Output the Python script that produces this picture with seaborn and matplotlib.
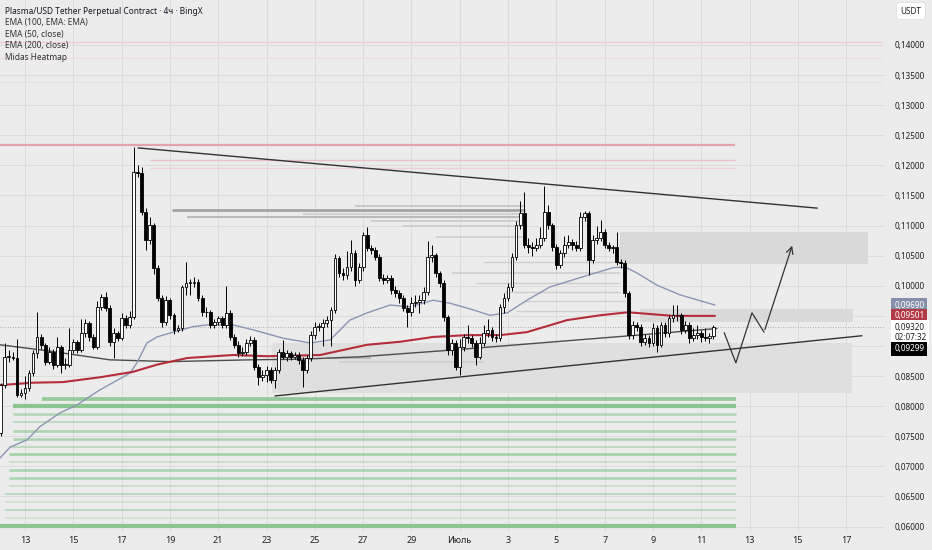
import numpy as np
import pandas as pd
import matplotlib
matplotlib.use("Agg")
import matplotlib.pyplot as plt
import seaborn as sns
from matplotlib.transforms import blended_transform_factory

# 4h candles, Plasma/USDT perpetual (BingX), starting 12 June
start = pd.Timestamp("2025-06-12 00:00")
first_open = 0.0756
closes = [0.0835, 0.0882, 0.0882, 0.0880, 0.0819, 0.0822, 0.0830, 0.0855, 0.0888, 0.0915,
          0.0902, 0.0874, 0.0890, 0.0869, 0.0898, 0.0869, 0.0869, 0.0893, 0.0907, 0.0893,
          0.0921, 0.0938, 0.0915, 0.0898, 0.0965, 0.0981, 0.0963, 0.0907, 0.0921, 0.0913,
          0.0946, 0.0935, 0.0948, 0.1189, 0.1187, 0.1123, 0.1076, 0.1101, 0.1030, 0.0980,
          0.0940, 0.0976, 0.0951, 0.0927, 0.0930, 0.0998, 0.1005, 0.1005, 0.1006, 0.0980,
          0.0956, 0.0956, 0.0935, 0.0940, 0.0946, 0.0935, 0.0955, 0.0915, 0.0902, 0.0888,
          0.0890, 0.0905, 0.0910, 0.0865, 0.0848, 0.0852, 0.0860, 0.0843, 0.0860, 0.0890,
          0.0882, 0.0888, 0.0882, 0.0885, 0.0877, 0.0860, 0.0880, 0.0918, 0.0932, 0.0932,
          0.0938, 0.0943, 0.0960, 0.1046, 0.1021, 0.1018, 0.1031, 0.1054, 0.1010, 0.1031,
          0.1084, 0.1063, 0.1059, 0.1048, 0.1013, 0.1010, 0.1013, 0.0993, 0.0988, 0.0980,
          0.0963, 0.0956, 0.0971, 0.0973, 0.0976, 0.0990, 0.1048, 0.1051, 0.1021, 0.1005,
          0.0948, 0.0893, 0.0905, 0.0865, 0.0898, 0.0915, 0.0913, 0.0905, 0.0882, 0.0905,
          0.0921, 0.0927, 0.0915, 0.0913, 0.0965, 0.0980, 0.0998, 0.1048, 0.1101, 0.1121,
          0.1068, 0.1064, 0.1063, 0.1068, 0.1079, 0.1123, 0.1101, 0.1064, 0.1035, 0.1054,
          0.1068, 0.1073, 0.1068, 0.1063, 0.1114, 0.1121, 0.1043, 0.1076, 0.1079, 0.1090,
          0.1068, 0.1063, 0.1064, 0.1040, 0.1038, 0.0988, 0.0918, 0.0935, 0.0932, 0.0907,
          0.0913, 0.0905, 0.0930, 0.0902, 0.0935, 0.0921, 0.0946, 0.0951, 0.0951, 0.0927,
          0.0935, 0.0913, 0.0918, 0.0921, 0.0915, 0.0913, 0.0916, 0.0932]
highs = [0.0839, 0.0905, 0.0893, 0.0890, 0.0912, 0.0828, 0.0850, 0.0860, 0.0893, 0.0956,
         0.0920, 0.0905, 0.0898, 0.0895, 0.0915, 0.0902, 0.0880, 0.0930, 0.0912, 0.0910,
         0.0945, 0.0944, 0.0942, 0.0920, 0.0975, 0.0986, 0.0990, 0.0968, 0.0930, 0.0925,
         0.0955, 0.0952, 0.0958, 0.1231, 0.1200, 0.1198, 0.1130, 0.1115, 0.1105, 0.1035,
         0.0985, 0.0983, 0.0980, 0.0955, 0.0935, 0.1002, 0.1040, 0.1012, 0.1015, 0.1012,
         0.0985, 0.0965, 0.0960, 0.0945, 0.0950, 0.0950, 0.1000, 0.0960, 0.0920, 0.0908,
         0.0898, 0.0912, 0.0916, 0.0915, 0.0870, 0.0860, 0.0866, 0.0865, 0.0865, 0.0895,
         0.0910, 0.0893, 0.0892, 0.0890, 0.0890, 0.0882, 0.0885, 0.0925, 0.0940, 0.0938,
         0.0945, 0.0950, 0.0965, 0.1052, 0.1050, 0.1030, 0.1058, 0.1076, 0.1060, 0.1038,
         0.1090, 0.1097, 0.1068, 0.1065, 0.1052, 0.1020, 0.1018, 0.1018, 0.1000, 0.0993,
         0.0985, 0.0968, 0.0982, 0.0985, 0.0985, 0.0998, 0.1075, 0.1068, 0.1055, 0.1025,
         0.1010, 0.0952, 0.0912, 0.0910, 0.0912, 0.0920, 0.0935, 0.0918, 0.0910, 0.0915,
         0.0935, 0.0945, 0.0932, 0.0920, 0.0970, 0.0988, 0.1005, 0.1055, 0.1108, 0.1140,
         0.1155, 0.1080, 0.1072, 0.1080, 0.1098, 0.1166, 0.1135, 0.1105, 0.1070, 0.1060,
         0.1082, 0.1085, 0.1078, 0.1075, 0.1122, 0.1125, 0.1125, 0.1085, 0.1100, 0.1110,
         0.1095, 0.1072, 0.1068, 0.1090, 0.1045, 0.1042, 0.0992, 0.0942, 0.0940, 0.0936,
         0.0920, 0.0918, 0.0938, 0.0935, 0.0940, 0.0940, 0.0952, 0.0968, 0.0968, 0.0955,
         0.0942, 0.0940, 0.0930, 0.0935, 0.0926, 0.0930, 0.0922, 0.0935]
lows = [0.0750, 0.0830, 0.0874, 0.0876, 0.0815, 0.0815, 0.0812, 0.0825, 0.0850, 0.0880,
        0.0895, 0.0868, 0.0870, 0.0862, 0.0865, 0.0855, 0.0862, 0.0865, 0.0888, 0.0888,
        0.0890, 0.0915, 0.0908, 0.0895, 0.0895, 0.0960, 0.0958, 0.0900, 0.0880, 0.0908,
        0.0910, 0.0930, 0.0930, 0.0945, 0.1180, 0.1118, 0.1060, 0.1070, 0.1020, 0.0975,
        0.0932, 0.0935, 0.0945, 0.0920, 0.0924, 0.0925, 0.0985, 0.0985, 0.0998, 0.0975,
        0.0950, 0.0948, 0.0930, 0.0930, 0.0935, 0.0930, 0.0930, 0.0910, 0.0896, 0.0882,
        0.0884, 0.0885, 0.0900, 0.0860, 0.0835, 0.0842, 0.0840, 0.0838, 0.0830, 0.0855,
        0.0878, 0.0875, 0.0876, 0.0878, 0.0870, 0.0832, 0.0855, 0.0875, 0.0912, 0.0925,
        0.0900, 0.0932, 0.0900, 0.0955, 0.1015, 0.1010, 0.1012, 0.1025, 0.1000, 0.1005,
        0.1025, 0.1058, 0.1052, 0.1042, 0.1008, 0.1003, 0.1005, 0.0987, 0.0982, 0.0972,
        0.0958, 0.0932, 0.0950, 0.0965, 0.0955, 0.0970, 0.0985, 0.1040, 0.1015, 0.0998,
        0.0942, 0.0885, 0.0885, 0.0860, 0.0852, 0.0892, 0.0905, 0.0898, 0.0869, 0.0878,
        0.0900, 0.0915, 0.0908, 0.0906, 0.0908, 0.0955, 0.0975, 0.0992, 0.1043, 0.1095,
        0.1062, 0.1055, 0.1050, 0.1058, 0.1062, 0.1075, 0.1095, 0.1058, 0.1028, 0.1030,
        0.1048, 0.1062, 0.1060, 0.1058, 0.1058, 0.1108, 0.1018, 0.1038, 0.1070, 0.1075,
        0.1062, 0.1058, 0.1055, 0.1035, 0.1030, 0.0982, 0.0912, 0.0912, 0.0925, 0.0900,
        0.0902, 0.0898, 0.0900, 0.0890, 0.0898, 0.0915, 0.0915, 0.0940, 0.0942, 0.0920,
        0.0922, 0.0905, 0.0908, 0.0912, 0.0906, 0.0908, 0.0905, 0.0912]
opens = [first_open] + closes[:-1]

# indicator lines (x = candle number, y = price)
ema50_x = [-0.2, 2.3, 6.5, 9.7, 14.7, 18.9, 24.6, 28.9, 32.1, 33.8, 36.3, 38.8, 42.8, 47.7,
           51.2, 57.7, 62.6, 70.1, 76.8, 81.8, 86.7, 91.0, 96.7, 101.7, 107.4, 111.6, 117.3,
           121.5, 125.8, 130.7, 136.4, 144.6, 152.1, 155.1, 158.1, 163.0, 168.7, 177.4]
ema50_y = [0.0714, 0.0732, 0.0744, 0.0766, 0.0789, 0.0802, 0.0827, 0.0843, 0.0855, 0.0872,
           0.0905, 0.0915, 0.0923, 0.0932, 0.0935, 0.0935, 0.0927, 0.0913, 0.0905, 0.0910,
           0.0943, 0.0955, 0.0968, 0.0965, 0.0976, 0.0971, 0.0960, 0.0951, 0.0955, 0.0976,
           0.0998, 0.1015, 0.1030, 0.1031, 0.1021, 0.1001, 0.0985, 0.0968]
ema200_x = [-0.2, 8.0, 15.4, 24.6, 32.8, 38.8, 46.3, 57.7, 66.1, 79.3, 91.0, 99.2, 107.4,
            115.8, 124.0, 130.7, 140.7, 148.9, 155.8, 167.0, 177.4]
ema200_y = [0.0835, 0.0839, 0.0840, 0.0848, 0.0857, 0.0869, 0.0880, 0.0885, 0.0883, 0.0885,
            0.0902, 0.0907, 0.0915, 0.0918, 0.0918, 0.0923, 0.0943, 0.0951, 0.0956, 0.0950,
            0.0950]
ema100_x = [-0.2, 10.5, 27.1, 42.0, 61.9, 74.3, 89.2, 111.6, 133.9, 156.3, 177.9]
ema100_y = [0.0902, 0.0893, 0.0877, 0.0874, 0.0877, 0.0878, 0.0882, 0.0893, 0.0905, 0.0917,
            0.0929]

# triangle trend lines and projected path
upper_x = [34.1, 202.8]
upper_y = [0.1229, 0.1129]
lower_x = [68.1, 213.9]
lower_y = [0.0817, 0.0917]
path_x = [179.7, 182.6, 186.6, 189.6, 196.8]
path_y = [0.0922, 0.0872, 0.0955, 0.0923, 0.1071]

# Midas heatmap levels
green_levels = [0.0812, 0.0800, 0.0787, 0.0774, 0.0759, 0.0746, 0.0733, 0.0721, 0.0708,
                0.0694, 0.0681, 0.0668, 0.0654, 0.0641, 0.0628, 0.0614, 0.0601]
green_start = [10.2, 3, 3, 3, 3, 3, 2, 2, 2, 2, 2, 2, 1, 1, 1, 1, -1]
green_weight = [0.85, 1.0, 0.45, 0.25, 0.5, 0.5, 0.3, 0.55, 0.15, 0.5, 0.5, 0.15, 0.3, 0.1,
                0.3, 0.1, 1.0]
green_end = 182.6
gray_levels = [0.1126, 0.1114, 0.1132, 0.1120, 0.1108, 0.1100, 0.1081, 0.1040, 0.1022,
               0.1005, 0.0990, 0.0975, 0.0958, 0.0880, 0.0874]
gray_start = [42.5, 46.3, 88, 75, 92, 100, 108, 120, 112, 118, 125, 130, 128, 81, 84]
gray_end = [130.2, 130.2, 130.2, 130.2, 130.2, 130.2, 130.2, 153.8, 153.8, 153.8, 153.8,
            155, 155, 92, 120]
gray_weight = [1.0, 0.6, 0.4, 0.3, 0.35, 0.3, 0.3, 0.25, 0.3, 0.25, 0.25, 0.2, 0.2, 0.6, 0.3]
pink_levels = [0.1405, 0.1379, 0.1339, 0.1234, 0.1209, 0.1196]
pink_start = [-1, -1, -1, -1, 37.1, 37.1]
pink_end = [219, 219, 219, 182.4, 182.4, 182.4]
pink_width = [1.0, 0.7, 0.6, 1.6, 1.0, 0.9]
pink_color = ['#efcdd1', '#f0dadc', '#e8dcdd', '#e2a3ab', '#ecc0c5', '#efcfd2']
zone_x0 = [153.8, 158.8, 67.4]
zone_x1 = [215.4, 211.7, 211.5]
zone_lo = [0.1036, 0.0940, 0.0822]
zone_hi = [0.1090, 0.0961, 0.0905]
zone_color = ['#d9d9d9', '#d9d9d9', '#dfdfdf']

price_ticks = [0.060, 0.065, 0.070, 0.075, 0.080, 0.085, 0.090, 0.095, 0.100, 0.105,
               0.110, 0.115, 0.120, 0.125, 0.130, 0.135, 0.140]
hidden_ticks = [0.090, 0.095]

legend_title = 'Plasma/USD Tether Perpetual Contract · 4ч · BingX'
legend_rows = ['EMA (100, EMA: EMA)', 'EMA (50, close)', 'EMA (200, close)', 'Midas Heatmap']

df = pd.DataFrame({"open": opens, "high": highs, "low": lows, "close": closes})
df["n"] = np.arange(len(df))

sns.set_theme(style="white")
plt.rcParams['font.family'] = ['Noto Sans', 'DejaVu Sans']

bg = '#ececec'
fig = plt.figure(figsize=(9.32, 5.5), dpi=100, facecolor=bg)
ax = fig.add_axes([0, 18 / 550, 884 / 932, 532 / 550])
ax.set_facecolor(bg)

# heatmap
for x0, x1, lo, hi, c in zip(zone_x0, zone_x1, zone_lo, zone_hi, zone_color):
    ax.fill_between([x0, x1], lo, hi, color=c, lw=0, zorder=1)
for lvl, s, w in zip(green_levels, green_start, green_weight):
    ax.hlines(lvl, s, green_end, color='#86c48b', alpha=0.25 + 0.7 * w, lw=0.9 + 2.1 * w, zorder=2)
for lvl, s, e, w in zip(gray_levels, gray_start, gray_end, gray_weight):
    g = 0.86 - 0.22 * w
    ax.hlines(lvl, s, e, color=(g, g, g), lw=0.7 + 1.3 * w, zorder=2)
for lvl, s, e, lw, c in zip(pink_levels, pink_start, pink_end, pink_width, pink_color):
    ax.hlines(lvl, s, e, color=c, lw=lw, zorder=2)

# EMAs
sns.lineplot(x=ema100_x, y=ema100_y, ax=ax, color='#4d4d4d', lw=1.0, zorder=4)
sns.lineplot(x=ema50_x, y=ema50_y, ax=ax, color='#8c96b3', lw=1.0, zorder=4)
sns.lineplot(x=ema200_x, y=ema200_y, ax=ax, color='#b32d3a', lw=1.5, zorder=4)

# candles
up = df["close"] >= df["open"]
body_lo = df[["open", "close"]].min(axis=1)
body_h = (df["close"] - df["open"]).abs().clip(lower=0.00006)
ax.vlines(df["n"], df["low"], df["high"], color='black', lw=0.7, zorder=5)
ax.bar(df["n"], body_h, bottom=body_lo, width=0.7,
       color=np.where(up, 'white', 'black'), edgecolor='black', linewidth=0.6, zorder=6)

# drawings
ax.plot(upper_x, upper_y, color='#333333', lw=1.0, zorder=7)
ax.plot(lower_x, lower_y, color='#333333', lw=1.0, zorder=7)
ax.plot(path_x[:-1], path_y[:-1], color='#333333', lw=0.9, zorder=7)
ax.annotate('', xy=(path_x[-1], path_y[-1]), xytext=(path_x[-2], path_y[-2]),
            arrowprops=dict(arrowstyle='->', color='#333333', lw=0.9), zorder=7)
ax.axhline(closes[-1], color='#9a9a9a', lw=0.6, ls=(0, (1, 2)), zorder=3)

# axes / grid
tick_dates = pd.date_range("2025-06-13", "2025-07-17", freq="2D")
tick_pos = [(d - start) / pd.Timedelta(hours=4) for d in tick_dates]
tick_lbl = ['Июль' if d.day == 1 else str(d.day) for d in tick_dates]
ax.set_xticks(tick_pos)
ax.set_xticklabels(tick_lbl)
for t, d in zip(ax.get_xticklabels(), tick_dates):
    if d.day == 1:
        t.set_fontweight('bold')
ax.set_yticks(price_ticks)
ax.set_yticklabels(['' if p in hidden_ticks else f"{p:.5f}".replace('.', ',') for p in price_ticks])
ax.yaxis.tick_right()
ax.tick_params(axis='y', length=0, pad=8, labelsize=5.9, labelcolor='#222222')
ax.tick_params(axis='x', length=0, pad=3, labelsize=6.5, labelcolor='#222222')
ax.grid(True, color='#dcdcdc', lw=0.7)
ax.set_axisbelow(True)
for s in ax.spines.values():
    s.set_visible(False)
ax.set_xlim(-0.21, 219.4)
ax.set_ylim(0.0591, 0.14747)

# price scale badges
tr = blended_transform_factory(ax.transAxes, ax.transData)
bx = 1.0115
badge = dict(fontsize=5.9, va='center', ha='left', transform=tr, clip_on=False)
ax.text(bx, 0.0968, '0,09690', color='white',
        bbox=dict(boxstyle='square,pad=0.35', fc='#8790aa', ec='none'), **badge)
ax.text(bx, 0.0950, '0,09501', color='white',
        bbox=dict(boxstyle='square,pad=0.35', fc='#b23a47', ec='none'), **badge)
ax.text(bx, 0.09225, '0,09320\n02:07:32', color='#222222', linespacing=1.2,
        bbox=dict(boxstyle='square,pad=0.35', fc='white', ec='none'), **badge)
ax.text(bx, 0.0895, '0,09299', color='white',
        bbox=dict(boxstyle='square,pad=0.35', fc='black', ec='none'), **badge)

# legend texts
fig.text(5 / 932, 1 - 11.5 / 550, legend_title, fontsize=6.0, color='#131722',
         fontweight='semibold', va='center')
for k, s in enumerate(legend_rows):
    fig.text(5 / 932, 1 - (23 + 11.4 * k) / 550, s, fontsize=6.0, color='#333333', va='center')
fig.text(911 / 932, 1 - 11 / 550, 'USDT', fontsize=5.8, color='#222222', ha='center', va='center',
         bbox=dict(boxstyle='round,pad=0.5', fc='white', ec='#e0e0e0', lw=0.6))

fig.savefig('out.png', dpi=100, facecolor=bg)
